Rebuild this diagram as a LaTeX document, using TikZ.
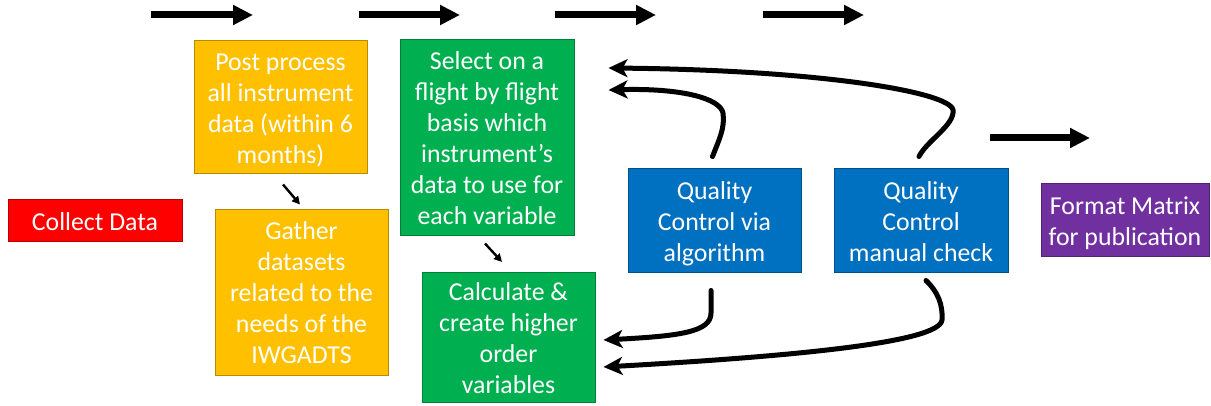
\documentclass[tikz,border=0pt]{standalone}
\usepackage{fontspec}
\setmainfont{Carlito}
\usetikzlibrary{arrows.meta}
\definecolor{cRed}{HTML}{FF0000}
\definecolor{cGold}{HTML}{FFC000}
\definecolor{cGreen}{HTML}{00B050}
\definecolor{cBlue}{HTML}{0070C0}
\definecolor{cPurple}{HTML}{7030A0}
% centred stack of lines with extra room on top, so it sits a little low in its box
\newcommand\boxlines[1]{\raisebox{0pt}[\dimexpr\height+6pt\relax][\depth]{\begin{tabular}{@{}c@{}}#1\end{tabular}}}
\begin{document}
\begin{tikzpicture}[x=1pt,y=-1pt,
  pbox/.style={rectangle, draw=#1!72!black, fill=#1, line width=1pt,
    text=white, inner sep=0pt,
    font=\fontsize{25.8}{31}\selectfont},
  blockarrow/.style={line width=7pt, -{Triangle[length=20pt,width=19pt]}},
  looparrow/.style={line width=5pt, line cap=round,
    -{Stealth[length=19pt,width=18pt,inset=5pt]}},
  thinarrow/.style={line width=2.4pt, -{Triangle[length=8pt,width=8pt]}}]
\useasboundingbox (0,0) rectangle (1211,406);

% process boxes
\node[pbox=cRed, minimum width=174pt, minimum height=42pt] (collect) at (95,221)
  {\boxlines{Collect Data}};
\node[pbox=cGold, minimum width=173pt, minimum height=133pt] (post) at (280.5,107.5)
  {\boxlines{Post process\\all instrument\\data (within 6\\months)}};
\node[pbox=cGold, minimum width=173pt, minimum height=165pt] (gather) at (301.5,292.5)
  {\boxlines{Gather\\datasets\\related to the\\needs of the\\IWGADTS}};
\node[pbox=cGreen, minimum width=174pt, minimum height=196pt] (select) at (487,138)
  {\boxlines{Select on a\\flight by flight\\basis which\\instrument’s\\data to use for\\each variable}};
\node[pbox=cGreen, minimum width=173pt, minimum height=129pt] (calc) at (508.5,337.5)
  {\boxlines{Calculate \&\\create higher\\order\\variables}};
\node[pbox=cBlue, minimum width=173pt, minimum height=104pt] (qca) at (714.5,221)
  {\boxlines{Quality\\Control via\\algorithm}};
\node[pbox=cBlue, minimum width=174pt, minimum height=104pt] (qcm) at (921,221)
  {\boxlines{Quality\\Control\\manual check}};
\node[pbox=cPurple, minimum width=168pt, minimum height=73pt] (fmt) at (1125,220.5)
  {\boxlines{Format Matrix\\for publication}};

% progress arrows along the top
\coordinate (t1a) at (151,15);  \coordinate (t1b) at (253,15);
\coordinate (t2a) at (359,15);  \coordinate (t2b) at (460,15);
\coordinate (t3a) at (555,15);  \coordinate (t3b) at (656,15);
\coordinate (t4a) at (763,15);  \coordinate (t4b) at (864,15);
\coordinate (t5a) at (990,138); \coordinate (t5b) at (1090,138);
\draw[blockarrow] (t1a) -- (t1b);
\draw[blockarrow] (t2a) -- (t2b);
\draw[blockarrow] (t3a) -- (t3b);
\draw[blockarrow] (t4a) -- (t4b);
\draw[blockarrow] (t5a) -- (t5b);

% sub-step arrows
\draw[thinarrow] ([xshift=2.5pt,yshift=-10pt]post.south) -- ([xshift=-1.5pt,yshift=5pt]gather.north);
\draw[thinarrow] ([xshift=-2pt,yshift=-7pt]select.south) -- ([xshift=-6.5pt,yshift=10pt]calc.north);

% feedback loops from quality control
\coordinate (selA) at ([xshift=34pt,yshift=70pt]select.east);
\coordinate (selB) at ([xshift=34pt,yshift=48pt]select.east);
\coordinate (calA) at ([xshift=8pt,yshift=-2.5pt]calc.east);
\coordinate (calB) at ([xshift=8pt,yshift=-29.5pt]calc.east);
\draw[looparrow] ([xshift=-2pt,yshift=12pt]qcm.north) .. controls +(8,-16) and (955,125) ..
  (953,110) .. controls (950,92) and (820,70) .. (selA);
\draw[looparrow] ([xshift=-2pt,yshift=12pt]qca.north) .. controls +(7,-18) and (725,128) ..
  (723,113) .. controls (720,98) and (680,88) .. (selB);
\draw[looparrow] ([xshift=-3.5pt,yshift=-17pt]qca.south) -- (711,313) .. controls (711,332) and (680,336) .. (calA);
\draw[looparrow] ([xshift=5pt,yshift=-7pt]qcm.south) .. controls (938,292) and (943,305) ..
  (942,320) .. controls (940,342) and (800,356) .. (calB);
\end{tikzpicture}
\end{document}
